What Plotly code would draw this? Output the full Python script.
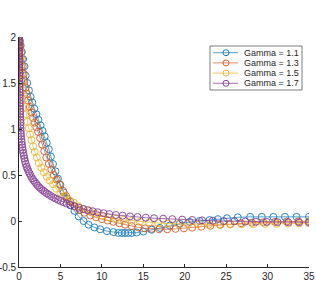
import plotly.graph_objects as go

# ---- data ----
names = ["Gamma = 1.1", "Gamma = 1.3", "Gamma = 1.5", "Gamma = 1.7"]
colors = ["#0072BD", "#D95319", "#EDB120", "#7E2F8E"]

x_g11 = [0, 0.1, 0.2, 0.35, 0.5, 0.65, 0.8, 1.0, 1.2, 1.4, 1.6, 1.85, 2.1, 2.35, 2.6, 2.85,
         3.1, 3.35, 3.6, 3.85, 4.1, 4.4, 4.7, 5.0, 5.4, 5.8, 6.2, 6.7, 7.2, 7.8, 8.4, 9.1,
         9.8, 10.6, 11.4, 12.0, 12.4, 12.8, 13.2, 13.6, 14.2, 15.0, 16.0, 17.0, 18.2, 19.4,
         20.6, 21.8, 23.0, 24.0, 25.1, 26.4, 27.9, 29.3, 30.7, 32.1, 33.5, 35.0]
y_g11 = [2.0, 1.96, 1.91, 1.84, 1.76, 1.68, 1.58, 1.50, 1.42, 1.35, 1.29, 1.22, 1.16, 1.10,
         1.04, 0.98, 0.92, 0.85, 0.78, 0.70, 0.62, 0.54, 0.46, 0.39, 0.31, 0.24, 0.17, 0.11,
         0.05, 0.0, -0.04, -0.07, -0.09, -0.11, -0.12, -0.13, -0.13, -0.13, -0.13, -0.13,
         -0.125, -0.115, -0.095, -0.075, -0.05, -0.03, -0.01, 0.0, 0.01, 0.02, 0.03, 0.04,
         0.045, 0.045, 0.045, 0.045, 0.045, 0.045]

x_g13 = [0, 0.08, 0.16, 0.25, 0.35, 0.45, 0.55, 0.65, 0.8, 0.95, 1.1, 1.3, 1.5, 1.7, 1.9,
         2.1, 2.3, 2.55, 2.8, 3.05, 3.3, 3.6, 3.9, 4.2, 4.55, 4.9, 5.3, 5.7, 6.2, 6.7, 7.3,
         7.9, 8.6, 9.3, 10.0, 10.7, 11.4, 12.1, 12.8, 13.6, 14.4, 15.2, 16.0, 16.9, 17.9,
         18.9, 19.9, 20.9, 22.0, 23.1, 24.3, 25.5, 26.8, 28.1, 29.5, 30.9, 32.3, 33.7, 35.0]
y_g13 = [2.0, 1.95, 1.9, 1.83, 1.76, 1.68, 1.6, 1.53, 1.45, 1.38, 1.31, 1.24, 1.18, 1.12,
         1.07, 1.02, 0.97, 0.9, 0.83, 0.76, 0.69, 0.62, 0.56, 0.5, 0.45, 0.4, 0.33, 0.27,
         0.21, 0.16, 0.12, 0.09, 0.06, 0.04, 0.02, 0.005, -0.01, -0.025, -0.04, -0.055,
         -0.07, -0.08, -0.085, -0.09, -0.09, -0.085, -0.08, -0.072, -0.062, -0.052, -0.042,
         -0.033, -0.025, -0.018, -0.013, -0.009, -0.006, -0.004, -0.003]

x_g15 = [0, 0.05, 0.1, 0.17, 0.25, 0.33, 0.42, 0.52, 0.63, 0.75, 0.88, 1.02, 1.17, 1.33,
         1.5, 1.7, 1.9, 2.15, 2.4, 2.7, 3.0, 3.35, 3.7, 4.1, 4.5, 5.0, 5.5, 6.0, 6.6, 7.2,
         7.8, 8.5, 9.2, 10.0, 10.8, 11.7, 12.6, 13.6, 14.6, 15.7, 16.8, 18.0, 19.2, 20.4,
         21.6, 22.9, 24.2, 25.5, 26.9, 28.3, 29.7, 31.1, 32.5, 33.8, 35.0]
y_g15 = [2.0, 1.93, 1.86, 1.78, 1.69, 1.6, 1.51, 1.42, 1.33, 1.24, 1.16, 1.08, 1.01, 0.94,
         0.88, 0.81, 0.75, 0.69, 0.63, 0.58, 0.53, 0.48, 0.44, 0.4, 0.35, 0.31, 0.27, 0.23,
         0.2, 0.16, 0.13, 0.11, 0.08, 0.06, 0.04, 0.025, 0.012, 0.002, -0.008, -0.016,
         -0.022, -0.028, -0.032, -0.035, -0.037, -0.038, -0.038, -0.037, -0.036, -0.034,
         -0.032, -0.03, -0.028, -0.026, -0.025]

x_g17 = [0, 0.002, 0.004, 0.006, 0.009, 0.012, 0.015, 0.018, 0.022, 0.026, 0.030, 0.034,
         0.038, 0.043, 0.048, 0.053, 0.058, 0.063, 0.068, 0.074, 0.080, 0.086, 0.092, 0.098,
         0.105, 0.112, 0.119, 0.127, 0.135, 0.144, 0.153, 0.163, 0.174, 0.186, 0.2, 0.22,
         0.25, 0.28, 0.32, 0.36, 0.41, 0.46, 0.52, 0.58, 0.65, 0.73, 0.82, 0.92, 1.03, 1.15,
         1.28, 1.42, 1.57, 1.73, 1.9, 2.08, 2.27, 2.47, 2.68, 2.9, 3.13, 3.37, 3.62, 3.88,
         4.15, 4.43, 4.72, 5.02, 5.35, 5.75, 6.2, 6.7, 7.2, 7.75, 8.3, 8.9, 9.5, 10.2, 10.9,
         11.7, 12.5, 13.4, 14.3, 15.3, 16.3, 17.4, 18.5, 19.7, 20.9, 22.1, 23.4, 24.7, 26.0,
         27.3, 28.6, 29.9, 31.2, 32.5, 33.8, 35.0]
y_g17 = [2.0, 1.97, 1.94, 1.91, 1.88, 1.85, 1.82, 1.79, 1.76, 1.73, 1.70, 1.67, 1.64, 1.61,
         1.58, 1.55, 1.52, 1.49, 1.46, 1.43, 1.40, 1.37, 1.34, 1.31, 1.28, 1.25, 1.22, 1.19,
         1.16, 1.13, 1.10, 1.07, 1.04, 1.01, 0.98, 0.95, 0.92, 0.89, 0.86, 0.83, 0.80, 0.77,
         0.74, 0.71, 0.68, 0.65, 0.62, 0.59, 0.565, 0.54, 0.515, 0.49, 0.465, 0.445, 0.425,
         0.405, 0.385, 0.365, 0.348, 0.332, 0.316, 0.3, 0.285, 0.27, 0.256, 0.243, 0.23,
         0.218, 0.205, 0.19, 0.175, 0.16, 0.145, 0.13, 0.118, 0.106, 0.095, 0.085, 0.075,
         0.066, 0.058, 0.05, 0.043, 0.036, 0.03, 0.025, 0.02, 0.015, 0.011, 0.007, 0.003,
         0.0, -0.003, -0.006, -0.008, -0.01, -0.012, -0.013, -0.014, -0.015]

xs = [x_g11, x_g13, x_g15, x_g17]
ys = [y_g11, y_g13, y_g15, y_g17]

x_ticks = [0, 5, 10, 15, 20, 25, 30, 35]
y_ticks = [-0.5, 0, 0.5, 1, 1.5, 2]
y_tick_text = ["-0.5", "0", "0.5", "1", "1.5", "2"]

FONT = "Liberation Sans, Arial, sans-serif"
INK = "#262626"

W, H = 316, 289
ML, MR, MT, MB = 19, 7, 37, 22
PW, PH = W - ML - MR, H - MT - MB

fig = go.Figure()
for name, c, x, y in zip(names, colors, xs, ys):
    fig.add_trace(go.Scatter(
        x=x, y=y, name=name, mode="lines+markers",
        line=dict(color=c, width=0.8),
        marker=dict(symbol="circle-open", size=7, color=c, line=dict(width=1, color=c)),
        opacity=0.85, showlegend=False,
    ))

axis_common = dict(
    showgrid=False, zeroline=False, showline=True, linecolor=INK, linewidth=0.7,
    ticks="inside", ticklen=3, tickwidth=0.7, tickcolor=INK,
    tickfont=dict(family=FONT, size=10, color=INK),
    automargin=False, mirror=False,
)
fig.update_xaxes(range=[0, 35], tickvals=x_ticks, **axis_common)
fig.update_yaxes(range=[-0.5, 2], tickvals=y_ticks, ticktext=y_tick_text, **axis_common)

# ---- compact legend box (MATLAB style), positioned in pixels of the plot area ----
def px(xp):
    return xp / PW

def py(yp):
    return 1 - yp / PH

box_l, box_t, box_r, box_b = 191, 9, 283, 53     # relative to plot-area top-left
row0, row_gap = 15.7, 10.2
line_l, line_r, mark_x, text_x = 194, 219, 207, 223
rad = 3.0

shapes = [dict(type="rect", xref="paper", yref="paper",
               x0=px(box_l), x1=px(box_r), y0=py(box_b), y1=py(box_t),
               line=dict(color=INK, width=0.6), fillcolor="white", layer="above")]
annotations = []
for i, (name, c) in enumerate(zip(names, colors)):
    yy = row0 + i * row_gap
    shapes.append(dict(type="line", xref="paper", yref="paper",
                       x0=px(line_l), x1=px(line_r), y0=py(yy), y1=py(yy),
                       line=dict(color=c, width=0.8), opacity=0.85, layer="above"))
    shapes.append(dict(type="circle", xref="paper", yref="paper",
                       x0=px(mark_x - rad), x1=px(mark_x + rad),
                       y0=py(yy + rad), y1=py(yy - rad),
                       line=dict(color=c, width=1), fillcolor="rgba(0,0,0,0)",
                       opacity=0.9, layer="above"))
    annotations.append(dict(xref="paper", yref="paper", x=px(text_x), y=py(yy),
                            xanchor="left", yanchor="middle", text=name, showarrow=False,
                            font=dict(family=FONT, size=9, color=INK)))

fig.update_layout(
    width=W, height=H,
    margin=dict(l=ML, r=MR, t=MT, b=MB),
    paper_bgcolor="white", plot_bgcolor="white",
    showlegend=False,
    shapes=shapes, annotations=annotations,
)

fig.write_html(
    "out.html",
    config={"displayModeBar": False},
    post_script="document.body.style.margin='0';document.body.style.overflow='hidden';",
)
